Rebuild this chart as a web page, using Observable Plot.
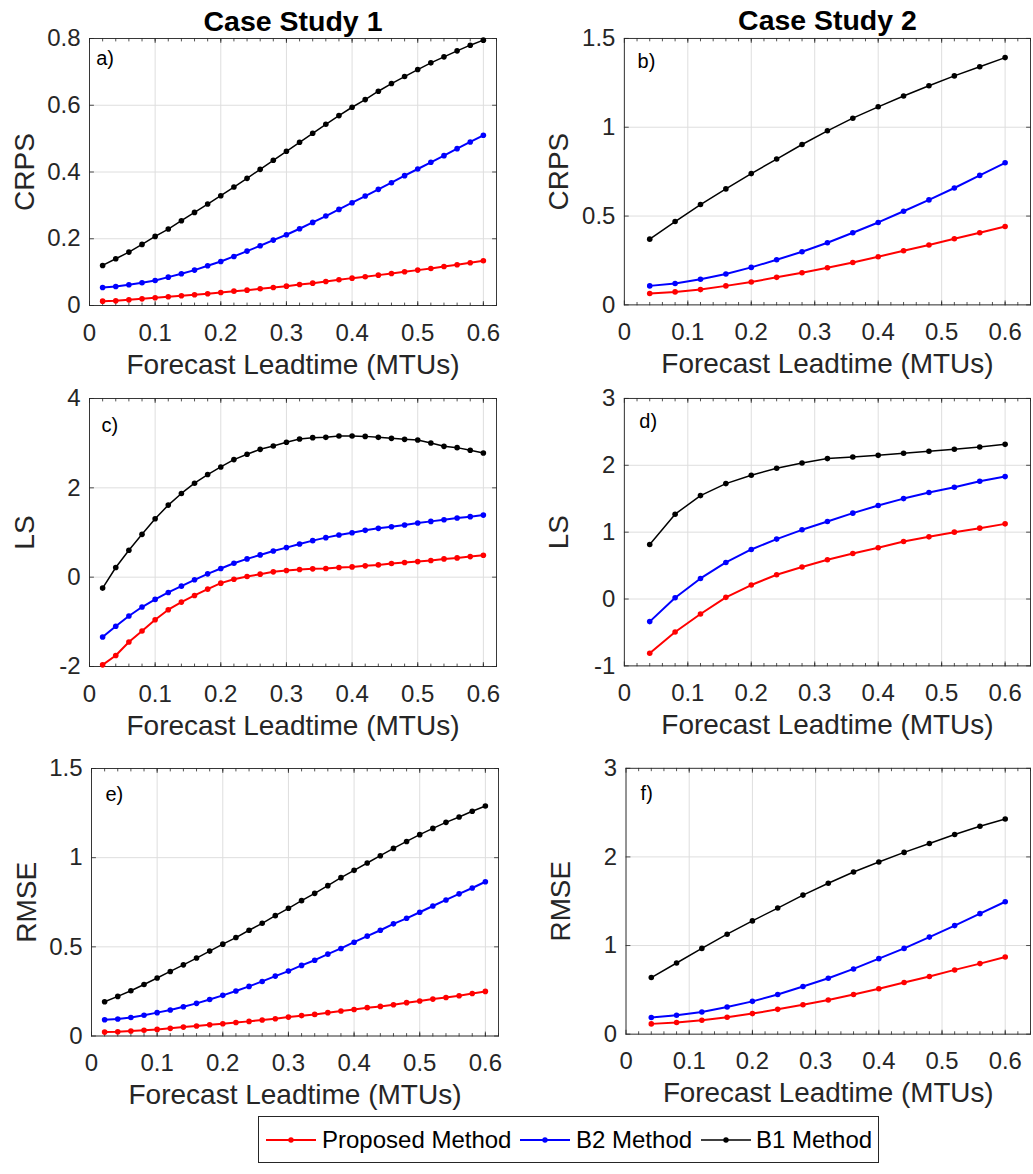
<!DOCTYPE html>
<html>
<head>
<meta charset="utf-8">
<script src="https://cdn.jsdelivr.net/npm/d3@7"></script>
<script src="https://cdn.jsdelivr.net/npm/@observablehq/plot@0.6"></script>
<style>
  body { margin: 0; background: #fff; }
  #fig { position: relative; width: 1033px; height: 1174px; overflow: hidden; background: #fff;
         font-family: "Liberation Sans", Arial, Helvetica, sans-serif; }
  .panel { position: absolute; }
  #legend { position: absolute; left: 258px; top: 1116px; width: 621px; height: 47px; box-sizing: border-box;
            border: 1px solid #262626; background: #fff; font-size: 24px; color: #000; }
  .item { position: absolute; top: 0; height: 45px; display: flex; align-items: center; }
  .item svg { display: block; }
</style>
</head>
<body>
<div id="fig"></div>
<script>
// ---------------- data ----------------
const methods = ["Proposed Method", "B2 Method", "B1 Method"];
const methodColors = ["#ff0000", "#0000ff", "#000000"];

const leadTime1 = [0.02,0.04,0.06,0.08,0.10,0.12,0.14,0.16,0.18,0.20,0.22,0.24,0.26,0.28,0.30,
                   0.32,0.34,0.36,0.38,0.40,0.42,0.44,0.46,0.48,0.50,0.52,0.54,0.56,0.58,0.60];
const leadTime2 = [0.04,0.08,0.12,0.16,0.20,0.24,0.28,0.32,0.36,0.40,0.44,0.48,0.52,0.56,0.60];

// Case Study 1 – CRPS
const crps1Proposed = [0.013,0.014,0.017,0.020,0.023,0.026,0.029,0.032,0.035,0.039,0.043,0.046,0.050,0.054,0.058,
                       0.063,0.067,0.072,0.077,0.082,0.086,0.091,0.096,0.101,0.106,0.111,0.117,0.122,0.128,0.134];
const crps1B2 = [0.054,0.057,0.062,0.068,0.075,0.085,0.095,0.106,0.119,0.132,0.147,0.163,0.179,0.196,0.212,
                 0.230,0.249,0.268,0.288,0.308,0.328,0.348,0.368,0.389,0.409,0.429,0.449,0.470,0.490,0.510];
const crps1B1 = [0.120,0.140,0.160,0.183,0.207,0.229,0.254,0.279,0.304,0.329,0.355,0.381,0.408,0.435,0.462,
                 0.489,0.516,0.543,0.569,0.594,0.617,0.642,0.665,0.686,0.707,0.727,0.745,0.763,0.780,0.795];
// Case Study 2 – CRPS
const crps2Proposed = [0.064,0.073,0.086,0.107,0.129,0.155,0.181,0.209,0.239,0.271,0.305,0.337,0.372,0.406,0.441];
const crps2B2 = [0.107,0.120,0.144,0.174,0.211,0.254,0.299,0.350,0.406,0.464,0.527,0.591,0.658,0.729,0.800];
const crps2B1 = [0.370,0.469,0.565,0.653,0.739,0.821,0.903,0.980,1.051,1.115,1.176,1.234,1.289,1.341,1.392];
// Case Study 1 – LS
const ls1Proposed = [-1.963,-1.755,-1.450,-1.204,-0.952,-0.729,-0.558,-0.409,-0.268,-0.134,-0.045,0.015,0.067,0.119,0.149,
                     0.171,0.186,0.193,0.216,0.230,0.253,0.275,0.305,0.327,0.349,0.372,0.409,0.431,0.460,0.490];
const ls1B2 = [-1.338,-1.100,-0.870,-0.669,-0.498,-0.342,-0.201,-0.059,0.074,0.193,0.312,0.409,0.498,0.587,0.662,
               0.743,0.818,0.885,0.944,0.996,1.048,1.093,1.130,1.167,1.212,1.249,1.286,1.323,1.355,1.390];
const ls1B1 = [-0.245,0.216,0.602,0.959,1.309,1.613,1.874,2.104,2.297,2.468,2.632,2.751,2.862,2.937,3.019,
               3.093,3.123,3.130,3.160,3.160,3.152,3.130,3.108,3.086,3.071,3.004,2.929,2.900,2.840,2.780];
// Case Study 2 – LS
const ls2Proposed = [-0.811,-0.493,-0.224,0.025,0.209,0.363,0.478,0.587,0.682,0.766,0.861,0.930,1.000,1.060,1.124];
const ls2B2 = [-0.338,0.020,0.308,0.547,0.741,0.896,1.035,1.159,1.284,1.398,1.502,1.592,1.672,1.761,1.831];
const ls2B1 = [0.816,1.269,1.547,1.726,1.851,1.955,2.035,2.100,2.124,2.149,2.179,2.209,2.239,2.274,2.313];
// Case Study 1 – RMSE
const rmse1Proposed = [0.022,0.024,0.028,0.032,0.037,0.043,0.050,0.056,0.063,0.069,0.076,0.082,0.090,0.097,0.106,
                       0.114,0.121,0.131,0.140,0.149,0.159,0.166,0.175,0.187,0.196,0.207,0.216,0.226,0.238,0.250];
const rmse1B2 = [0.091,0.095,0.104,0.116,0.131,0.146,0.164,0.183,0.205,0.228,0.252,0.278,0.306,0.336,0.364,
                 0.396,0.425,0.459,0.491,0.526,0.560,0.593,0.629,0.660,0.694,0.729,0.763,0.797,0.830,0.865];
const rmse1B1 = [0.192,0.222,0.254,0.289,0.325,0.362,0.399,0.437,0.476,0.515,0.552,0.593,0.632,0.675,0.716,
                 0.759,0.800,0.843,0.888,0.929,0.970,1.011,1.052,1.091,1.129,1.164,1.198,1.228,1.260,1.290];
// Case Study 2 – RMSE
const rmse2Proposed = [0.116,0.131,0.157,0.191,0.232,0.280,0.332,0.385,0.448,0.512,0.583,0.650,0.725,0.796,0.870];
const rmse2B2 = [0.187,0.213,0.250,0.306,0.370,0.448,0.538,0.631,0.736,0.852,0.968,1.095,1.225,1.360,1.494];
const rmse2B1 = [0.639,0.803,0.968,1.128,1.278,1.423,1.569,1.703,1.830,1.942,2.051,2.152,2.253,2.346,2.428];

// tick labels
const xTicks = [0, 0.1, 0.2, 0.3, 0.4, 0.5, 0.6];
const crpsTicks1 = [0, 0.2, 0.4, 0.6, 0.8];
const crpsTicks2 = [0, 0.5, 1, 1.5];
const lsTicks1 = [-2, 0, 2, 4];
const lsTicks2 = [-1, 0, 1, 2, 3];
const rmseTicks1 = [0, 0.5, 1, 1.5];
const rmseTicks2 = [0, 1, 2, 3];
const xLabel = "Forecast Leadtime (MTUs)";
const titles = ["Case Study 1", "Case Study 2"];

// ---------------- layout ----------------
const FONT = '"Liberation Sans", Arial, Helvetica, sans-serif';
const AX = "#262626";
const GRID = "#dedede";
const mL = 80, mR = 3, mT = 32, mB = 80, FW = 407;

const panels = [
  {tag: "a)", left: 9,   top: 6,     h: 267,   t: leadTime1, xMax: 0.62, s: [crps1Proposed, crps1B2, crps1B1], yDomain: [0, 0.8], yTicks: crpsTicks1, yLabel: "CRPS", title: titles[0], lab: [6.7, 26.6]},
  {tag: "b)", left: 544, top: 6,     h: 267,   t: leadTime2, xMax: 0.64, s: [crps2Proposed, crps2B2, crps2B1], yDomain: [0, 1.5], yTicks: crpsTicks2, yLabel: "CRPS", title: titles[1], lab: [13.3, 30]},
  {tag: "c)", left: 9,   top: 366,   h: 268,   t: leadTime1, xMax: 0.62, s: [ls1Proposed, ls1B2, ls1B1], yDomain: [-2, 4], yTicks: lsTicks1, yLabel: "LS", lab: [12, 33]},
  {tag: "d)", left: 544, top: 366,   h: 268,   t: leadTime2, xMax: 0.64, s: [ls2Proposed, ls2B2, ls2B1], yDomain: [-1, 3], yTicks: lsTicks2, yLabel: "LS", lab: [15, 30]},
  {tag: "e)", left: 11,  top: 735.7, h: 267.5, t: leadTime1, xMax: 0.62, s: [rmse1Proposed, rmse1B2, rmse1B1], yDomain: [0, 1.5], yTicks: rmseTicks1, yLabel: "RMSE", lab: [14, 32]},
  {tag: "f)", left: 546, top: 735.7, h: 267.5, t: leadTime2, xMax: 0.64, s: [rmse2Proposed, rmse2B2, rmse2B1], yDomain: [0, 3], yTicks: rmseTicks2, yLabel: "RMSE", lab: [14.7, 32]}
];

const tickShape = {draw(ctx, l) { ctx.moveTo(0, 0); ctx.lineTo(0, -l); }};
const fig = document.getElementById("fig");

for (const p of panels) {
  const rows = [];
  methods.forEach((m, k) => p.s[k].forEach((v, i) => rows.push({t: p.t[i], v, method: m})));
  const minor = d3.range(0.02, p.xMax + 1e-9, 0.02);
  const tickV = (data, anchor, rotate, length) =>
    anchor === "bottom" || anchor === "top"
      ? Plot.vector(data, {x: d => d, frameAnchor: anchor, rotate, length, anchor: "start", shape: tickShape, stroke: AX, strokeWidth: 0.8})
      : Plot.vector(data, {y: d => d, frameAnchor: anchor, rotate, length, anchor: "start", shape: tickShape, stroke: AX, strokeWidth: 0.8});

  const marks = [
    Plot.gridX(xTicks, {stroke: GRID, strokeOpacity: 1, strokeWidth: 1}),
    Plot.gridY(p.yTicks, {stroke: GRID, strokeOpacity: 1, strokeWidth: 1}),
    tickV(minor, "bottom", 0, 2.5),
    tickV(minor, "top", 180, 2.5),
    tickV(xTicks, "bottom", 0, 4),
    tickV(xTicks, "top", 180, 4),
    tickV(p.yTicks, "left", 90, 4),
    tickV(p.yTicks, "right", -90, 4),
    Plot.frame({stroke: AX, strokeWidth: 0.9}),
    Plot.axisX(xTicks, {tickSize: 0, tickPadding: 18, fontSize: 24, fill: AX, tickFormat: d => String(d), label: null}),
    Plot.axisY(p.yTicks, {tickSize: 0, tickPadding: 9, fontSize: 24, fill: AX, tickFormat: d => String(d), label: null})
  ];
  methods.forEach((m, k) => {
    const data = rows.filter(r => r.method === m);
    marks.push(Plot.line(data, {x: "t", y: "v", stroke: methodColors[k], strokeWidth: k === 2 ? 1.5 : 2}));
    marks.push(Plot.dot(data, {x: "t", y: "v", fill: methodColors[k], r: 2.8}));
  });
  marks.push(
    Plot.text([p.yLabel], {text: d => d, frameAnchor: "left", dx: -56, rotate: -90, textAnchor: "middle", lineAnchor: "bottom", fontSize: 28, fill: AX}),
    Plot.text([xLabel], {text: d => d, frameAnchor: "bottom", dy: 68, textAnchor: "middle", lineAnchor: "bottom", fontSize: 28, fill: AX}),
    Plot.text([p.tag], {text: d => d, frameAnchor: "top-left", dx: p.lab[0], dy: p.lab[1], textAnchor: "start", lineAnchor: "bottom", fontSize: 20, fill: "#000"})
  );
  if (p.title) {
    marks.push(Plot.text([p.title], {text: d => d, frameAnchor: "top", dy: -8, textAnchor: "middle", lineAnchor: "bottom", fontSize: 28.5, fontWeight: "bold", fill: "#000"}));
  }

  const chart = Plot.plot({
    width: mL + FW + mR,
    height: mT + p.h + mB,
    marginLeft: mL, marginRight: mR, marginTop: mT, marginBottom: mB,
    style: {background: "transparent", color: AX, fontFamily: FONT, overflow: "visible"},
    x: {domain: [0, p.xMax]},
    y: {domain: p.yDomain},
    marks
  });
  const wrap = document.createElement("div");
  wrap.className = "panel";
  wrap.style.left = p.left + "px";
  wrap.style.top = p.top + "px";
  wrap.appendChild(chart);
  fig.appendChild(wrap);
}

// ---------------- legend ----------------
const legend = document.createElement("div");
legend.id = "legend";
const itemPos = [[7, 63], [261, 317], [442, 497]];
methods.forEach((m, k) => {
  const sw = document.createElement("div");
  sw.className = "item";
  sw.style.left = itemPos[k][0] + "px";
  sw.innerHTML = `<svg width="50" height="10"><line x1="0" y1="5" x2="50" y2="5" stroke="${methodColors[k]}" stroke-width="${k === 2 ? 1.5 : 2}"/><circle cx="25" cy="5" r="2.7" fill="${methodColors[k]}"/></svg>`;
  legend.appendChild(sw);
  const tx = document.createElement("div");
  tx.className = "item";
  tx.style.left = itemPos[k][1] + "px";
  tx.textContent = m;
  legend.appendChild(tx);
});
fig.appendChild(legend);
</script>
</body>
</html>
